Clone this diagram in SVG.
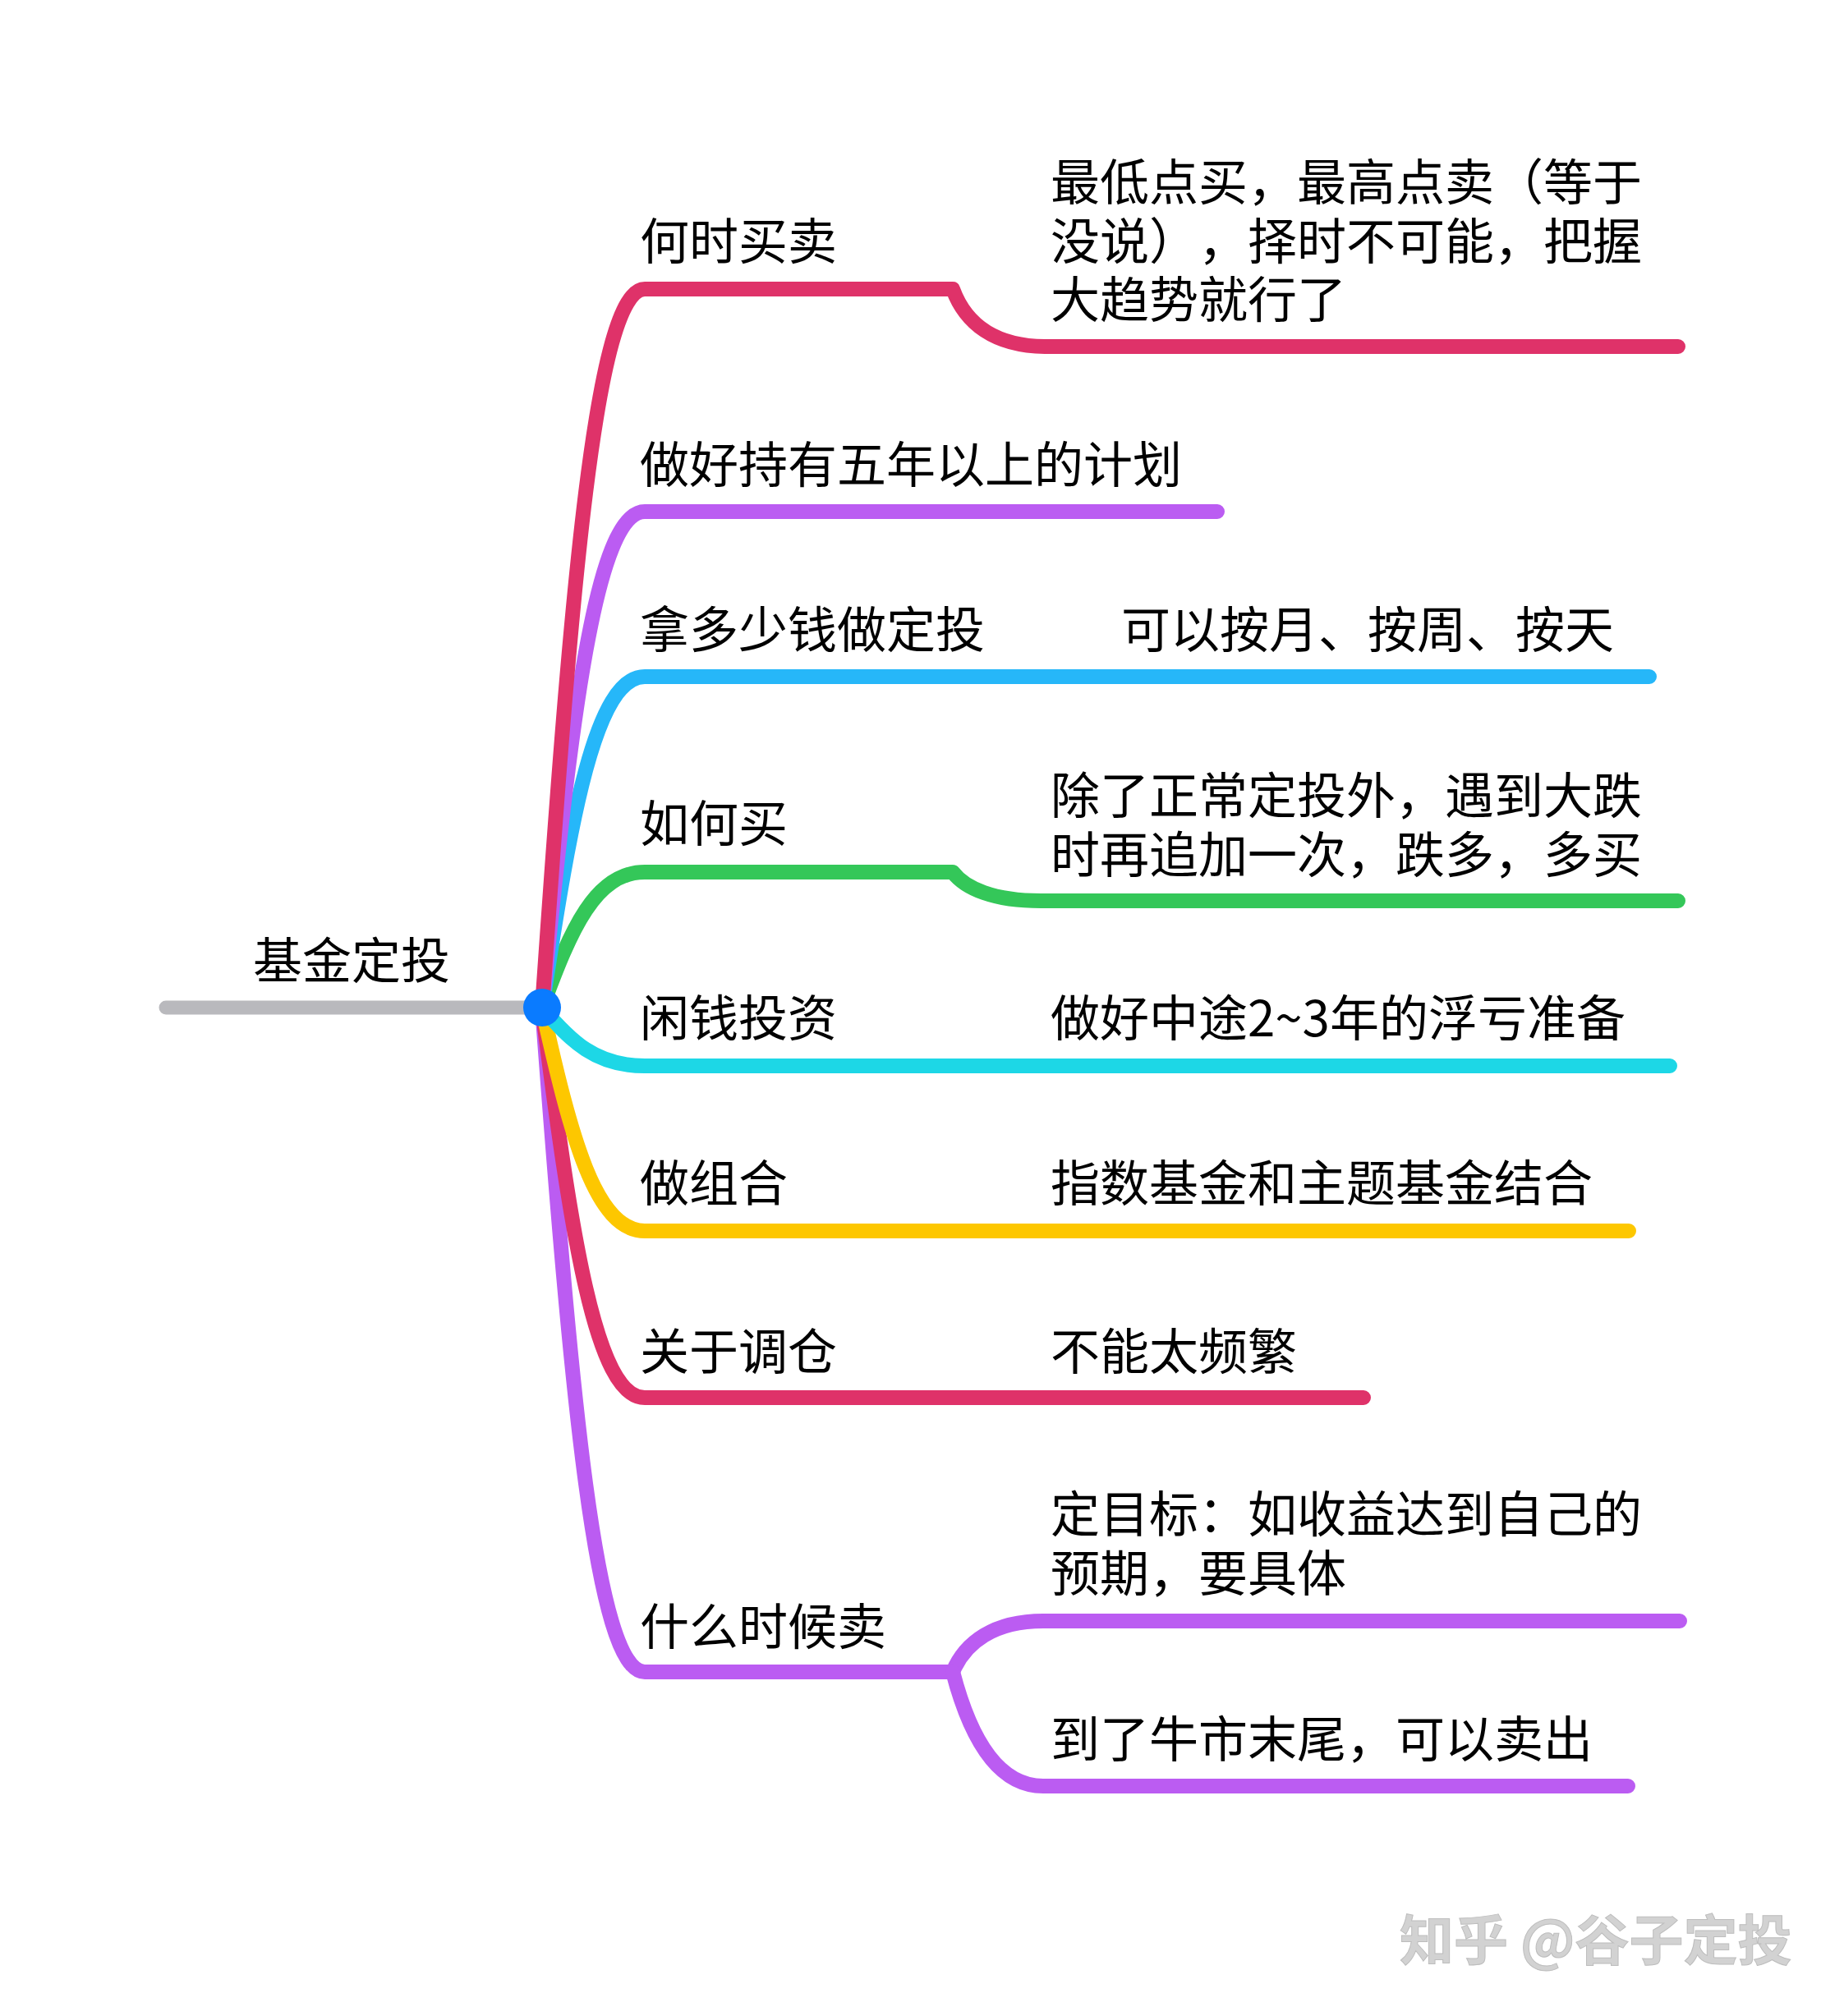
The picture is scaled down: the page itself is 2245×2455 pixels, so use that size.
<svg xmlns="http://www.w3.org/2000/svg" width="2245" height="2455" viewBox="0 0 2245 2455">
<style>
.t{font-family:"Noto Sans CJK SC","Noto Sans CJK JP",sans-serif;font-size:60px;fill:#000;text-spacing-trim:space-all}
.c{fill:none;stroke-width:18;stroke-linecap:round;stroke-linejoin:round}
.red{stroke:#DF3269}.pur{stroke:#BB5CF2}.blu{stroke:#26B7F9}.grn{stroke:#34C759}.cya{stroke:#1DD7E6}.yel{stroke:#FDC700}
.wm{font-family:"Noto Sans CJK SC",sans-serif;font-size:66px;font-weight:bold;fill:#d2d2d2;stroke:#bdbdbd;stroke-width:1}
</style>
<rect width="2245" height="2455" fill="#fff"/>
<g id="connectors">
<line x1="202" y1="1227" x2="660" y2="1227" stroke="#B9B9BD" stroke-width="17" stroke-linecap="round"/>
<path class="c pur" d="M660 1227 C695 1696 725 2036 785 2036 L1160 2036"/>
<path class="c pur" d="M1160 2036 C1175 2000 1210 1974 1270 1974 L2045 1974"/>
<path class="c pur" d="M1160 2036 C1178 2105 1210 2175 1270 2175 L1982 2175"/>
<path class="c red" d="M660 1227 C695 1503 725 1702 785 1702 L1660 1702"/>
<path class="c yel" d="M660 1227 C695 1385 725 1499 785 1499 L1983 1499"/>
<path class="c cya" d="M660 1227 C695 1268 725 1298 785 1298 L2033 1298"/>
<path class="c grn" d="M660 1227 C695 1131 725 1062 785 1062 L1160 1062 C1175 1082 1210 1097 1267 1097 L2043 1097"/>
<path class="c blu" d="M660 1227 C695 993 725 824 785 824 L2008 824"/>
<path class="c pur" d="M660 1227 C695 877 725 623 785 623 L1482 623"/>
<path class="c red" d="M660 1227 C695 720 725 352 785 352 L1160 352 C1175 393 1210 422 1274 422 L2043 422"/>
</g>
<g id="root">
<text class="t" x="308" y="1192">基金定投</text>
<circle cx="660" cy="1227" r="23" fill="#0A7BFF"/>
</g>
<g id="n1"><text class="t" x="779" y="316">何时买卖</text></g>
<g id="n1a"><text class="t" x="1279" y="244">最低点买，最高点卖（等于</text><text class="t" x="1279" y="316">没说）<tspan x="1459">，择时不可能，把握</tspan></text><text class="t" x="1279" y="387">大趋势就行了</text></g>
<g id="n2"><text class="t" x="779" y="588">做好持有五年以上的计划</text></g>
<g id="n3"><text class="t" x="779" y="789">拿多少钱做定投</text></g>
<g id="n3a"><text class="t" x="1365" y="789">可以按月、按周、按天</text></g>
<g id="n4"><text class="t" x="779" y="1025">如何买</text></g>
<g id="n4a"><text class="t" x="1279" y="991">除了正常定投外，遇到大跌</text><text class="t" x="1279" y="1063">时再追加一次，跌多，多买</text></g>
<g id="n5"><text class="t" x="779" y="1262">闲钱投资</text></g>
<g id="n5a"><text class="t" x="1279" y="1262">做好中途2~3年的浮亏准备</text></g>
<g id="n6"><text class="t" x="779" y="1463">做组合</text></g>
<g id="n6a"><text class="t" x="1279" y="1463">指数基金和主题基金结合</text></g>
<g id="n7"><text class="t" x="779" y="1668">关于调仓</text></g>
<g id="n7a"><text class="t" x="1279" y="1668">不能太频繁</text></g>
<g id="n8"><text class="t" x="779" y="2003">什么时候卖</text></g>
<g id="n8a"><text class="t" x="1279" y="1866">定目标：如收益达到自己的</text><text class="t" x="1279" y="1938">预期，要具体</text></g>
<g id="n8b"><text class="t" x="1279" y="2140">到了牛市末尾，可以卖出</text></g>
<text class="wm" x="1704" y="2387">知乎 @谷子定投</text>
</svg>
